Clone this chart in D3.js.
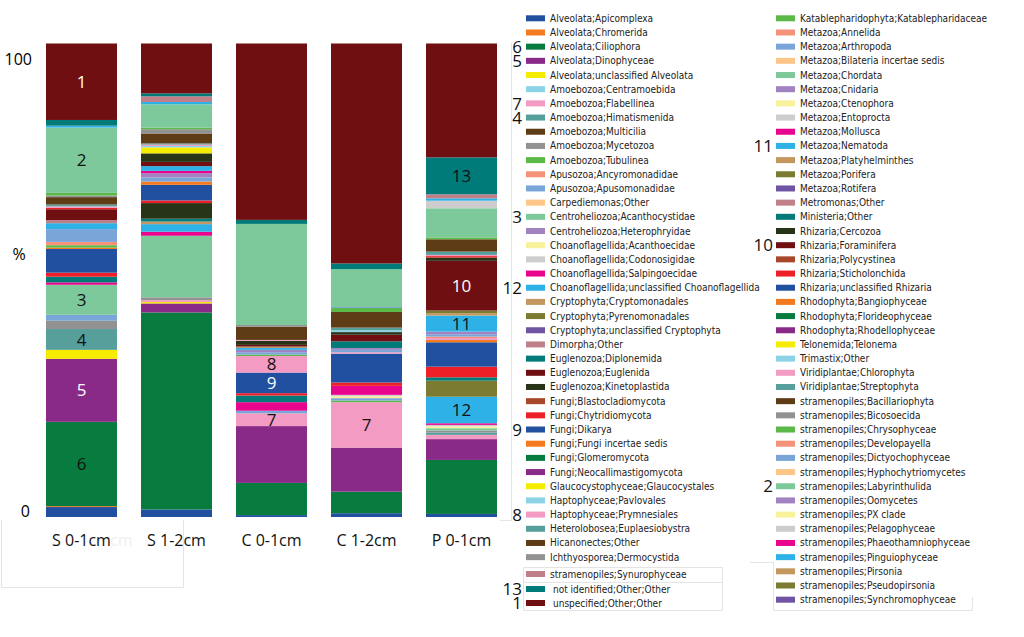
<!DOCTYPE html>
<html>
<head>
<meta charset="utf-8">
<script src="https://cdn.jsdelivr.net/npm/d3@7"></script>
<style>
  body { margin: 0; background: #fff; }
  svg { display: block; }
</style>
</head>
<body>
<div id="chart"></div>
<script>
// sample names (x axis)
const samples = ["S 0-1cm", "S 1-2cm", "C 0-1cm", "C 1-2cm", "P 0-1cm"];

// taxa in legend order
const taxa = [
  "Alveolata;Apicomplexa", "Alveolata;Chromerida", "Alveolata;Ciliophora", "Alveolata;Dinophyceae",
  "Alveolata;unclassified Alveolata", "Amoebozoa;Centramoebida", "Amoebozoa;Flabellinea",
  "Amoebozoa;Himatismenida", "Amoebozoa;Multicilia", "Amoebozoa;Mycetozoa", "Amoebozoa;Tubulinea",
  "Apusozoa;Ancyromonadidae", "Apusozoa;Apusomonadidae", "Carpediemonas;Other",
  "Centroheliozoa;Acanthocystidae", "Centroheliozoa;Heterophryidae", "Choanoflagellida;Acanthoecidae",
  "Choanoflagellida;Codonosigidae", "Choanoflagellida;Salpingoecidae",
  "Choanoflagellida;unclassified Choanoflagellida", "Cryptophyta;Cryptomonadales",
  "Cryptophyta;Pyrenomonadales", "Cryptophyta;unclassified Cryptophyta", "Dimorpha;Other",
  "Euglenozoa;Diplonemida", "Euglenozoa;Euglenida", "Euglenozoa;Kinetoplastida",
  "Fungi;Blastocladiomycota", "Fungi;Chytridiomycota", "Fungi;Dikarya", "Fungi;Fungi incertae sedis",
  "Fungi;Glomeromycota", "Fungi;Neocallimastigomycota", "Glaucocystophyceae;Glaucocystales",
  "Haptophyceae;Pavlovales", "Haptophyceae;Prymnesiales", "Heterolobosea;Euplaesiobystra",
  "Hicanonectes;Other", "Ichthyosporea;Dermocystida",
  // second column
  "Katablepharidophyta;Katablepharidaceae", "Metazoa;Annelida", "Metazoa;Arthropoda",
  "Metazoa;Bilateria incertae sedis", "Metazoa;Chordata", "Metazoa;Cnidaria", "Metazoa;Ctenophora",
  "Metazoa;Entoprocta", "Metazoa;Mollusca", "Metazoa;Nematoda", "Metazoa;Platyhelminthes",
  "Metazoa;Porifera", "Metazoa;Rotifera", "Metromonas;Other", "Ministeria;Other", "Rhizaria;Cercozoa",
  "Rhizaria;Foraminifera", "Rhizaria;Polycystinea", "Rhizaria;Sticholonchida",
  "Rhizaria;unclassified Rhizaria", "Rhodophyta;Bangiophyceae", "Rhodophyta;Florideophyceae",
  "Rhodophyta;Rhodellophyceae", "Telonemida;Telonema", "Trimastix;Other", "Viridiplantae;Chlorophyta",
  "Viridiplantae;Streptophyta", "stramenopiles;Bacillariophyta", "stramenopiles;Bicosoecida",
  "stramenopiles;Chrysophyceae", "stramenopiles;Developayella", "stramenopiles;Dictyochophyceae",
  "stramenopiles;Hyphochytriomycetes", "stramenopiles;Labyrinthulida", "stramenopiles;Oomycetes",
  "stramenopiles;PX clade", "stramenopiles;Pelagophyceae", "stramenopiles;Phaeothamniophyceae",
  "stramenopiles;Pinguiophyceae", "stramenopiles;Pirsonia", "stramenopiles;Pseudopirsonia",
  "stramenopiles;Synchromophyceae",
  // separate boxes at the bottom
  "stramenopiles;Synurophyceae", "not identified;Other;Other", "unspecified;Other;Other"
];

// relative abundance (%), one value per taxon above, per sample
const s01 = [
  2.1, 0.2, 17.8, 13.3, 1.9, 0, 0, 4.4, 0, 1.75,
  0, 0, 1.25, 0, 6.35, 0, 0, 0, 0.5, 0,
  0, 0, 0, 0, 1.2, 0, 0, 0, 0.85, 5.0,
  0.3, 0, 0, 0, 0, 0, 0, 0, 0, 0.5,
  0.7, 2.7, 0, 0, 0, 0, 0, 0, 1.25, 0,
  0, 0, 0.65, 0, 0, 2.3, 0, 0.3, 0, 0,
  0, 0, 0, 0, 0.3, 0.4, 1.55, 0.35, 0.55, 0,
  0, 0, 13.8, 0, 0, 0, 0, 0.4, 0, 0,
  0, 0, 1.2, 16.15
];
const s12 = [
  1.6, 0, 41.6, 1.9, 0.3, 0, 0.4, 0, 0, 0.6,
  0, 0, 0, 0, 13.0, 0, 0, 0, 0.85, 1.6,
  0.55, 0, 0, 0, 0.6, 0, 3.3, 0, 0.55, 3.3,
  0.7, 0, 0, 0, 0, 0, 0, 0, 0, 0,
  0, 0.85, 0, 0, 0.9, 0, 0, 0.5, 1.0, 0,
  0, 0, 0, 0, 1.8, 0.9, 0, 0, 0, 0,
  0, 0, 1.25, 0.3, 0.3, 0.25, 2.1, 0.9, 0.35, 0,
  0, 0, 4.9, 0, 0, 0, 0, 0.5, 0, 0,
  0, 1.2, 0.6, 10.55
];
const c01 = [
  0.4, 0, 6.8, 12.0, 0, 0, 2.7, 0, 0, 0,
  0, 0, 0.55, 0, 0, 0, 0, 0, 1.8, 0,
  0, 0, 0, 0, 1.4, 0, 0, 0, 0.5, 4.35,
  0, 0, 0, 0, 0, 3.5, 0, 0, 0, 0.3,
  0, 0.5, 0, 0, 0.5, 0, 0, 0, 0.4, 0.3,
  0, 0, 0, 0, 0.85, 0.35, 0, 0, 0, 0,
  0, 0, 0, 0, 0.2, 0, 2.8, 0.35, 0, 0,
  0, 0, 21.35, 0, 0, 0, 0, 0, 0, 0,
  0, 0, 0.85, 37.25
];
const c12 = [
  0.8, 0, 4.55, 9.3, 0, 0, 9.6, 0, 0, 0,
  0.35, 0, 0.5, 0, 0, 0, 0.4, 0.3, 1.9, 0,
  0, 0, 0, 0, 0, 0, 0, 0, 0.7, 6.1,
  0, 0, 0, 0, 0, 0.3, 0, 0, 0, 0,
  0, 0.5, 0, 0, 0.4, 0, 0, 0, 0, 0,
  0, 0, 0, 1.4, 0.55, 1.4, 0, 0, 0, 0,
  0, 0, 0, 0.4, 0, 0.55, 3.3, 0, 0.85, 0,
  0.2, 0, 8.0, 0, 0, 0, 0, 0, 0, 0,
  0, 0, 1.2, 46.45
];
const p01 = [
  0.65, 0, 11.4, 4.4, 0, 0, 0.9, 0.5, 0, 0.4,
  0, 0, 0, 0, 0.5, 0, 0.4, 0.3, 0.35, 5.6,
  0, 3.4, 0, 0, 0.7, 0, 0, 0, 2.25, 5.15,
  0.5, 0, 0, 0, 0, 0.4, 0, 0, 0, 0,
  0.3, 0.5, 0, 0, 0.55, 0, 0, 0, 3.4, 0.5,
  0.55, 0, 0, 0, 0.7, 10.5, 0, 0.3, 0, 0,
  0, 0, 0, 0, 0.25, 0.7, 2.6, 0, 0.4, 0,
  0, 0, 6.15, 0, 0, 1.6, 0, 0.5, 0, 0,
  0, 0.85, 7.8, 24.05
];

// numbered taxa
const taxonNumbers = [
  ["unspecified;Other;Other", "1"], ["stramenopiles;Labyrinthulida", "2"],
  ["Centroheliozoa;Acanthocystidae", "3"], ["Amoebozoa;Himatismenida", "4"],
  ["Alveolata;Dinophyceae", "5"], ["Alveolata;Ciliophora", "6"], ["Amoebozoa;Flabellinea", "7"],
  ["Haptophyceae;Prymnesiales", "8"], ["Fungi;Dikarya", "9"], ["Rhizaria;Foraminifera", "10"],
  ["Metazoa;Nematoda", "11"], ["Choanoflagellida;unclassified Choanoflagellida", "12"],
  ["not identified;Other;Other", "13"]
];
// where the numbers are written inside the bars
const barNumbers = [
  ["S 0-1cm", "1"], ["S 0-1cm", "2"], ["S 0-1cm", "3"], ["S 0-1cm", "4"], ["S 0-1cm", "5"], ["S 0-1cm", "6"],
  ["C 0-1cm", "8"], ["C 0-1cm", "9"], ["C 0-1cm", "7"], ["C 1-2cm", "7"],
  ["P 0-1cm", "13"], ["P 0-1cm", "10"], ["P 0-1cm", "11"], ["P 0-1cm", "12"]
];

// colour cycle of the chart
const palette = [
  "#2250a0", "#f47a20", "#087b3f", "#8a2a88", "#f5ec00", "#8cd3e5", "#f39bc3", "#579f9b",
  "#5d3c16", "#929292", "#5bb947", "#f4937a", "#7aa5d8", "#fdc688", "#7ec99b", "#a083c0",
  "#f8f29b", "#cdcdcd", "#e8048c", "#2eb1e7", "#c4975f", "#7b7b32", "#6e54a3", "#c0808a",
  "#007b79", "#6f0f11", "#283418", "#a8482a", "#ee2027"
];

const width = 1024, height = 637;
const font = "'Open Sans', sans-serif";
const legendFont = "'DejaVu Sans Condensed', 'DejaVu Sans', sans-serif";

const svg = d3.select("#chart")
  .append("svg")
  .attr("width", width)
  .attr("height", height);

// the bars stack Foraminifera just below Cercozoa
const stackKeys = taxa.slice();
const iC = stackKeys.indexOf("Rhizaria;Cercozoa"), iF = stackKeys.indexOf("Rhizaria;Foraminifera");
[stackKeys[iC], stackKeys[iF]] = [stackKeys[iF], stackKeys[iC]];

const color = d3.scaleOrdinal()
  .domain(stackKeys)
  .range(palette);

const values = [s01, s12, c01, c12, p01];
const data = samples.map((s, i) => {
  const row = { sample: s };
  taxa.forEach((t, j) => row[t] = values[i][j]);
  return row;
});

const series = d3.stack().keys(stackKeys)(data);

const x = d3.scaleBand()
  .domain(samples)
  .range([46, 497])
  .paddingInner(24 / 95)
  .paddingOuter(0);

const y = d3.scaleLinear()
  .domain([0, 100])
  .range([517, 43.5]);

// faint leftover frame lines
const faint = svg.append("g").attr("fill", "none").attr("stroke", "#e4e4e4").attr("stroke-width", 1);
faint.append("path").attr("d", "M1.5,520V587.5H183.5V520");
faint.append("path").attr("d", "M511.5,43V520.5H500");
faint.append("path").attr("d", "M523.5,567.5H722.5V610.5H523.5Z M523.5,582.5H722.5");
faint.append("path").attr("d", "M750,562.5H773.5V610.5H972.5V597");

// bars
svg.append("g")
  .selectAll("g")
  .data(series)
  .join("g")
  .attr("fill", d => color(d.key))
  .selectAll("rect")
  .data(d => d.filter(p => p[1] > p[0]))
  .join("rect")
  .attr("x", d => x(d.data.sample))
  .attr("y", d => y(d[1]))
  .attr("height", d => y(d[0]) - y(d[1]))
  .attr("width", x.bandwidth());

// numbers inside bars
const numberToTaxon = new Map(taxonNumbers.map(d => [d[1], d[0]]));
const whiteNumbers = new Set(["1", "5", "9", "10"]);
svg.append("g")
  .selectAll("text")
  .data(barNumbers)
  .join("text")
  .attr("x", d => x(d[0]) + x.bandwidth() / 2)
  .attr("y", d => {
    const s = series.find(sr => sr.key === numberToTaxon.get(d[1]));
    const p = s[samples.indexOf(d[0])];
    return (y(p[0]) + y(p[1])) / 2;
  })
  .attr("dy", "0.36em")
  .attr("text-anchor", "middle")
  .style("font-family", font)
  .style("font-size", "17px")
  .attr("fill", d => whiteNumbers.has(d[1]) ? "#fff" : "#111")
  .text(d => d[1]);

// y labels
svg.append("text")
  .attr("x", 32).attr("y", y(100) + 21)
  .attr("text-anchor", "end")
  .style("font-family", font).style("font-size", "16px")
  .text("100");
svg.append("text")
  .attr("x", 30).attr("y", y(0))
  .attr("text-anchor", "end")
  .style("font-family", font).style("font-size", "16px")
  .text("0");
svg.append("text")
  .attr("x", 19).attr("y", 260)
  .attr("text-anchor", "middle")
  .style("font-family", font).style("font-size", "16px")
  .text("%");

// x labels
svg.append("g")
  .selectAll("text")
  .data(samples)
  .join("text")
  .attr("x", d => x(d) + x.bandwidth() / 2)
  .attr("y", 546)
  .attr("text-anchor", "middle")
  .style("font-family", font)
  .style("font-size", "16px")
  .attr("fill", "#111")
  .text(d => d);
// ghost text left over next to the first label
svg.append("text")
  .attr("x", 110).attr("y", 546)
  .style("font-family", font).style("font-size", "16px")
  .attr("fill", "#f0f0f0")
  .text("cm");

// legend
const rowH = 14.18, row0 = 18.3;
const legendItems = taxa.map((t, i) => {
  if (i < 39) return { t, sx: 526, tx: 550, cy: row0 + i * rowH, nx: 522 };
  if (i < 81) return { t, sx: 776, tx: 800, cy: row0 + (i - 39) * rowH, nx: 773 };
  return { t, sx: 526, tx: i === 81 ? 550 : 553, cy: [574, 589, 603][i - 81], nx: 522 };
});
const taxonToNumber = new Map(taxonNumbers);

const legend = svg.append("g");
legend.selectAll("rect")
  .data(legendItems)
  .join("rect")
  .attr("x", d => d.sx)
  .attr("y", d => d.cy - 3)
  .attr("width", 19)
  .attr("height", 6)
  .attr("fill", d => color(d.t));
legend.selectAll("text.lab")
  .data(legendItems)
  .join("text")
  .attr("class", "lab")
  .attr("x", d => d.tx)
  .attr("y", d => d.cy)
  .attr("dy", "0.35em")
  .style("font-family", legendFont)
  .style("font-size", "10px")
  .attr("fill", "#222")
  .text(d => d.t);
legend.selectAll("text.num")
  .data(legendItems.filter(d => taxonToNumber.has(d.t)))
  .join("text")
  .attr("class", "num")
  .attr("x", d => d.nx)
  .attr("y", d => d.cy)
  .attr("dy", "0.36em")
  .attr("text-anchor", "end")
  .style("font-family", font)
  .style("font-size", "17px")
  .attr("fill", "#111")
  .text(d => taxonToNumber.get(d.t));
</script>
</body>
</html>
